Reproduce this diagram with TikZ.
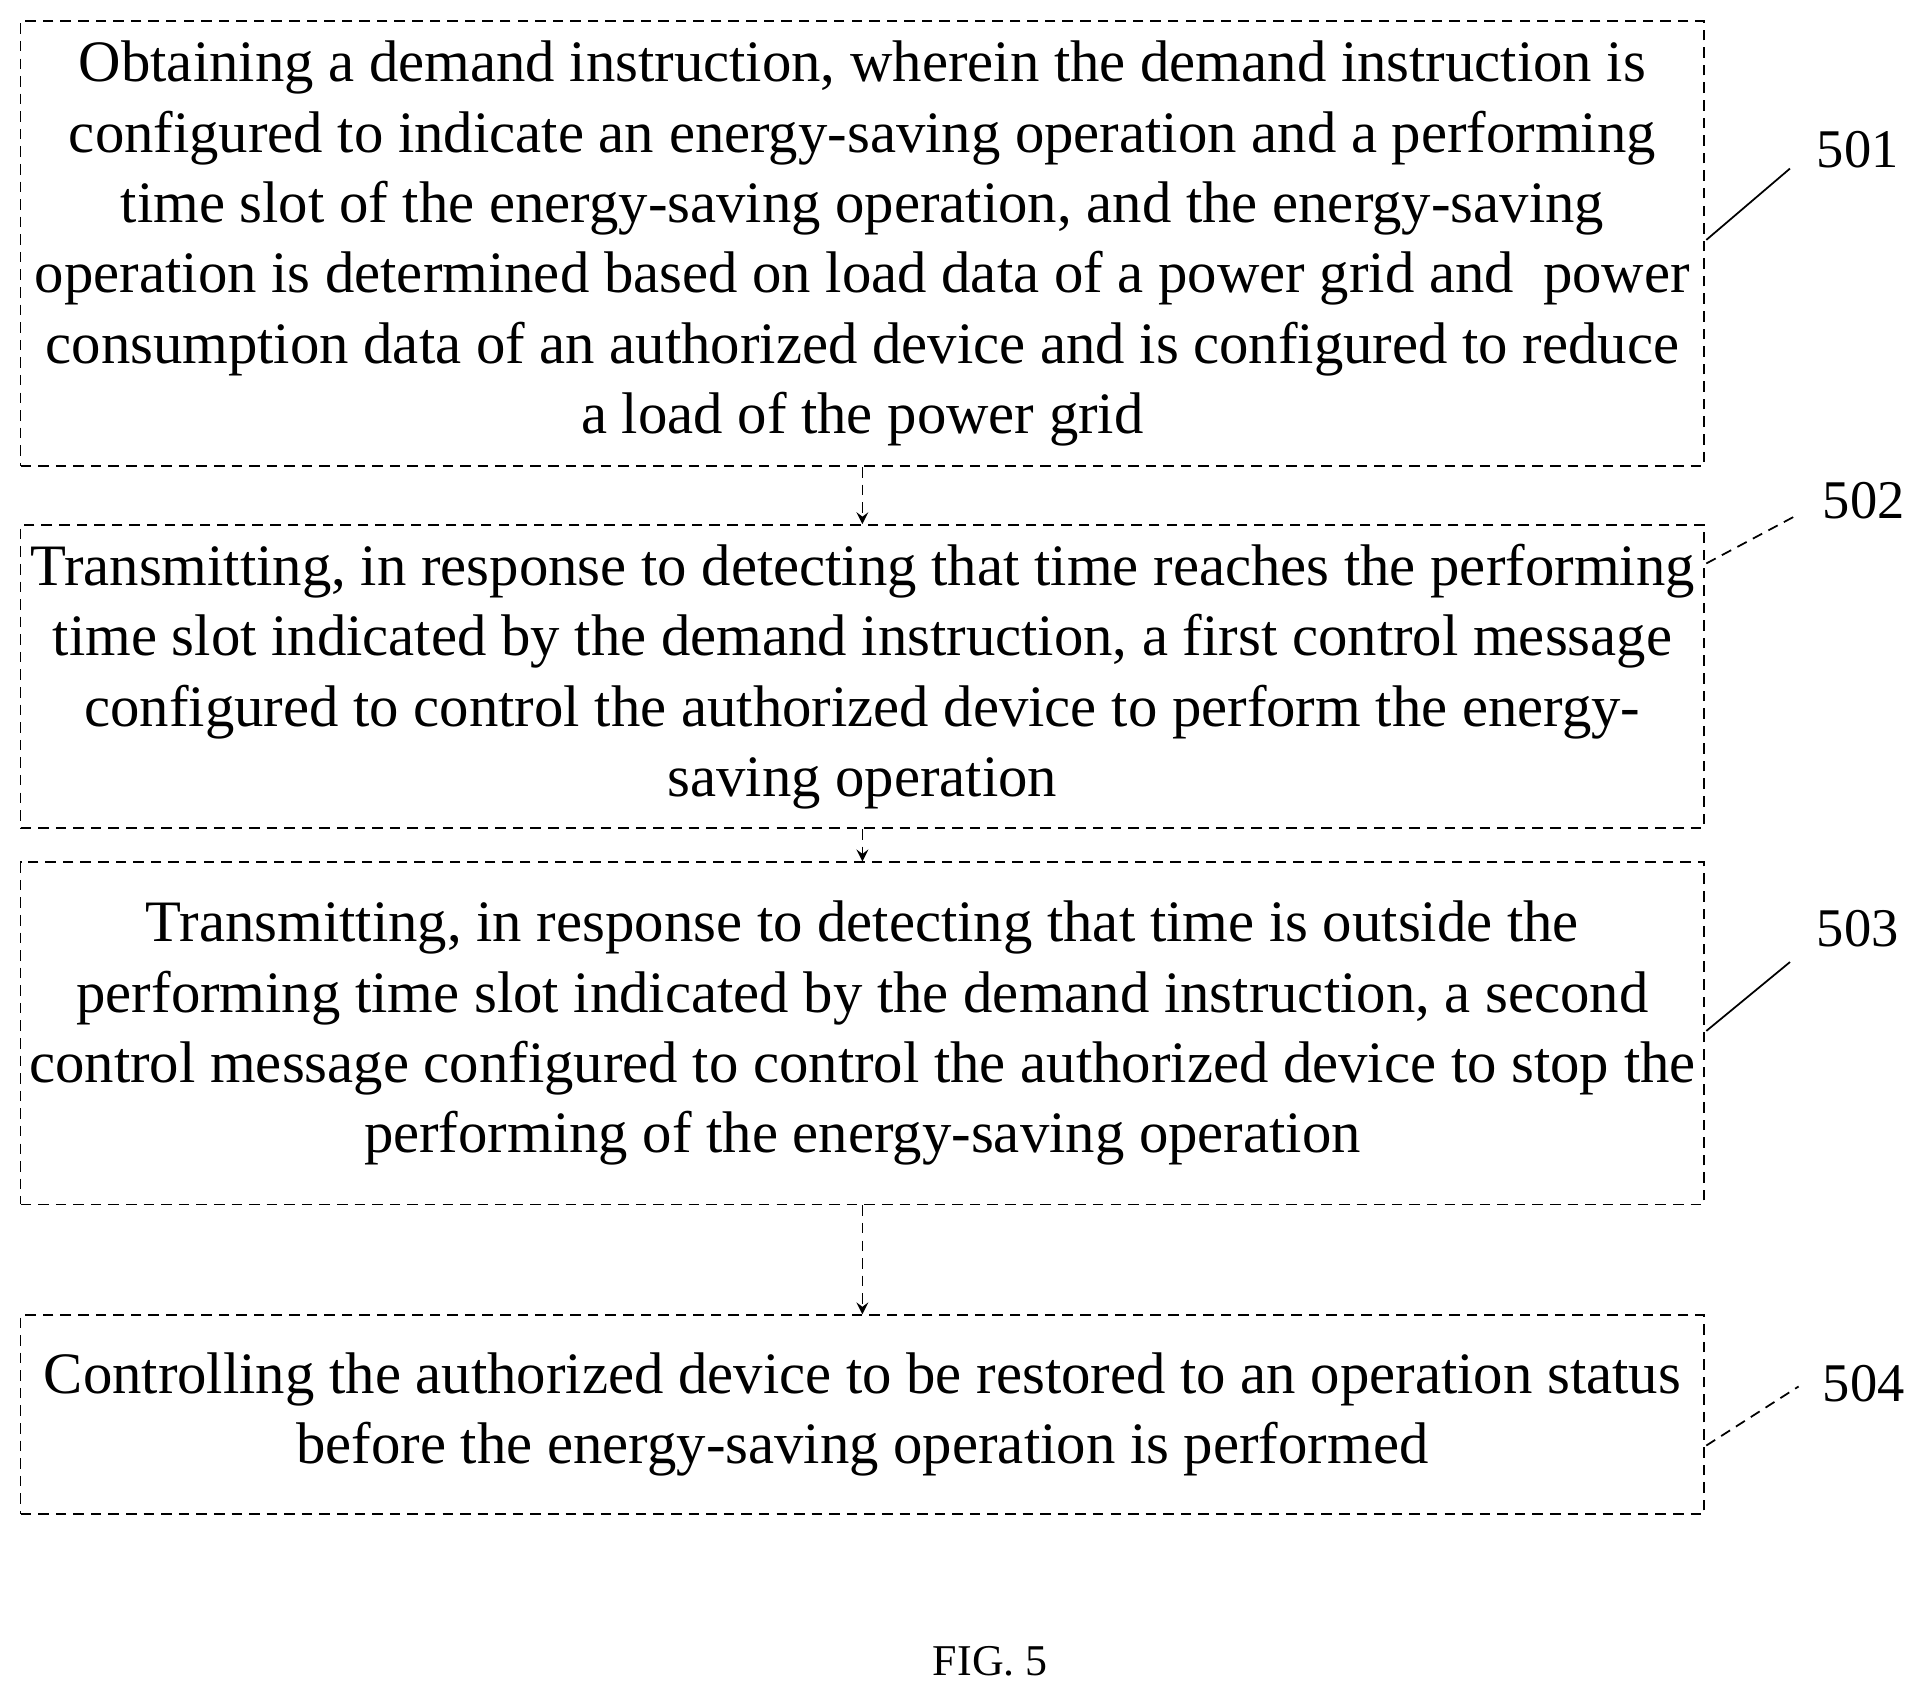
\documentclass[tikz,border=0pt]{standalone}
\usepackage{fontspec}
\setmainfont{Liberation Serif}
\usetikzlibrary{arrows}

\begin{document}
\begin{tikzpicture}[x=0.0123cm, y=-0.0123cm,
    stepbox/.style={draw, densely dashed, line width=0.5pt, minimum width=16.83cm,
      align=center, font=\fontsize{16.7}{20}\selectfont, inner sep=0pt},
    flowarrow/.style={->, densely dashed, >=stealth, line width=0.5pt},
    numlabel/.style={font=\fontsize{15.5}{18}\selectfont, inner sep=0pt}]
    \useasboundingbox (0,0) rectangle (1568,1380);
	\node[stepbox, minimum height=4.45cm] (s501) at (701,198) {Obtaining a demand instruction, wherein the demand instruction is\\configured to indicate an energy-saving operation and a performing\\time slot of the energy-saving operation, and the energy-saving\\operation is determined based on load data of a power grid and\ \ power\\consumption data of an authorized device and is configured to reduce\\a load of the power grid};
    \node[stepbox, minimum height=3.03cm] (s502) at (701,550) {Transmitting, in response to detecting that time reaches the performing\\time slot indicated by the demand instruction, a first control message\\configured to control the authorized device to perform the energy-\\saving operation};
    \node[stepbox, minimum height=3.42cm] (s503) at (701,840) {Transmitting, in response to detecting that time is outside the\\performing time slot indicated by the demand instruction, a second\\control message configured to control the authorized device to stop the\\performing of the energy-saving operation};
    \node[stepbox, minimum height=1.99cm] (s504) at (701,1150) {Controlling the authorized device to be restored to an operation status\\before the energy-saving operation is performed};
    \draw[flowarrow](s501)--(s502);
    \draw[flowarrow](s502)--(s503);
    \draw[flowarrow](s503)--(s504);
    % step numbers
    \node[numlabel] (n501) at (1510,122) {501};
    \node[numlabel] (n502) at (1515,407) {502};
    \node[numlabel] (n503) at (1510,755) {503};
    \node[numlabel] (n504) at (1515,1125) {504};
    \coordinate (c501) at (1387,195);
    \coordinate (c502) at (1387,458);
    \coordinate (c503) at (1387,838);
    \coordinate (c504) at (1387,1175);
    \draw[line width=0.5pt](c501)--(1455,137);
    \draw[densely dashed, line width=0.5pt](c502)--(1462,418);
    \draw[line width=0.5pt](c503)--(1455,782);
    \draw[densely dashed, line width=0.5pt](c504)--(1462,1127);
    \node[font=\fontsize{12.5}{15}\selectfont] (fig) at (805,1350) {FIG. 5};
\end{tikzpicture}
\end{document}
